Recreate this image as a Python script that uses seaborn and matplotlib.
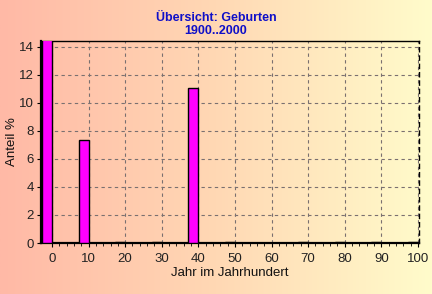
import numpy as np
import pandas as pd
import matplotlib
matplotlib.use("Agg")
import matplotlib.pyplot as plt
import seaborn as sns
from matplotlib.colors import LinearSegmentedColormap

# data
years = [0, 10, 20, 30, 40, 50, 60, 70, 80, 90, 100]
shares = [14.8, 7.36, 0.06, 0.06, 11.07, 0.06, 0.0, 0.06, 0.06, 0.06, 0.06]
xticks = [0, 10, 20, 30, 40, 50, 60, 70, 80, 90, 100]
yticks = [0, 2, 4, 6, 8, 10, 12, 14]
title = "Übersicht: Geburten\n1900..2000"

sns.set_theme(style="white")
plt.rcParams['font.family'] = ['Liberation Sans', 'DejaVu Sans']

fig = plt.figure(figsize=(4.32, 2.94), dpi=100)

# background gradient
bg = fig.add_axes([0, 0, 1, 1])
cmap = LinearSegmentedColormap.from_list("bg", ["#ffb9a6", "#ffd8b4", "#fffccb"])
grad = np.linspace(0, 1, 256).reshape(1, -1)
bg.imshow(grad, aspect="auto", cmap=cmap, extent=[0, 1, 0, 1])
bg.set_axis_off()

ax = fig.add_axes([41/432, 1-243/294, (419-41)/432, (243-41)/294])
ax.patch.set_alpha(0)

df = pd.DataFrame({"pos": [y - 1.35 for y in years], "share": shares})
sns.barplot(data=df, x="pos", y="share", native_scale=True, width=0.27,
            color="#ff00ff", saturation=1, edgecolor="black", linewidth=1,
            ax=ax, zorder=3)

ax.set_xlim(-3, 100.3)
ax.set_ylim(0, 14.4)
ax.set_xticks(xticks)
ax.set_xticklabels([str(t) for t in xticks])
ax.set_xticks(np.arange(0, 101, 2), minor=True)
ax.set_yticks(yticks)
ax.grid(True, which="major", color="#7a7070", linestyle=(0, (3, 3)), linewidth=0.8)
ax.set_axisbelow(True)

for s in ["left", "bottom"]:
    ax.spines[s].set_linewidth(1.6)
    ax.spines[s].set_color("black")
ax.spines["top"].set_linewidth(1.0)
ax.spines["top"].set_color("black")
ax.spines["right"].set_linewidth(1.0)
ax.spines["right"].set_color("black")
ax.spines["right"].set_linestyle((0, (3, 3)))

ax.tick_params(axis="both", which="major", direction="out", length=3, width=0.8,
               color="black", labelsize=9.5, labelcolor="#222222", pad=2,
               bottom=True, left=True)
ax.tick_params(axis="x", which="major", pad=4)
ax.tick_params(axis="x", which="minor", direction="out", length=2, width=0.6,
               color="black", bottom=True)

ax.set_xlabel("Jahr im Jahrhundert", fontsize=9.5, color="#111111", labelpad=2)
ax.set_ylabel("Anteil %", fontsize=9.5, color="#111111", va="center")
ax.yaxis.set_label_coords(-29/378, 0.5)
fig.text(0.5, 0.917, title, ha="center", va="center", fontsize=9,
         fontweight="bold", color="#1010c8", linespacing=1.05)

fig.savefig("out.png", dpi=100)
